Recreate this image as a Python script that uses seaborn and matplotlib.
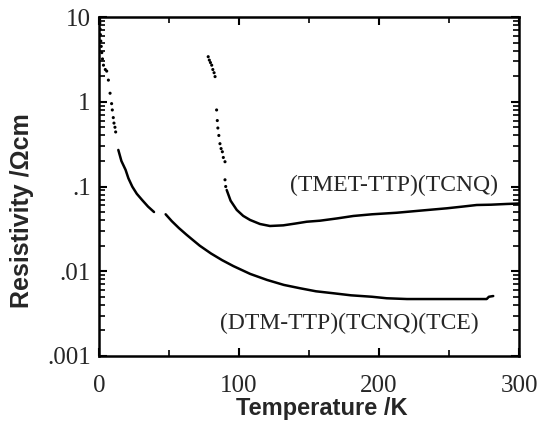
import matplotlib
matplotlib.use("Agg")
import matplotlib.pyplot as plt
import matplotlib.ticker as mticker
import seaborn as sns
import pandas as pd

# ---- data ----
dtm_dots_T = [0.5, 0.6, 0.8, 1.0, 1.3, 1.6, 2.0, 2.5, 3.2, 4.5, 5.5, 6.7, 7.9, 9.0, 9.5, 10.2, 10.7, 11.4, 11.9]
dtm_dots_R = [9.5, 8.5, 7.2, 6.2, 5.2, 4.5, 3.8, 3.2, 2.7, 2.4, 2.3, 1.8, 1.26, 0.95, 0.8, 0.65, 0.56, 0.5, 0.44]

dtm_seg1_T = [13.8, 16, 19, 21, 23.8, 27, 30.9, 35, 39.3]
dtm_seg1_R = [0.27, 0.2, 0.157, 0.125, 0.0995, 0.082, 0.069, 0.058, 0.050]

dtm_seg2_T = [47.6, 52, 57.1, 62.6, 67, 72, 80, 88, 96, 108, 120, 132, 143.6, 155, 167.4, 180,
              195, 205.5, 220, 238.8, 260, 276.9, 278.5, 281.6]
dtm_seg2_R = [0.047, 0.039, 0.0323, 0.0269, 0.0234, 0.0200, 0.0162, 0.0135, 0.0115, 0.0093, 0.0079,
              0.0069, 0.0063, 0.0058, 0.0055, 0.0052, 0.0050, 0.0048, 0.0047, 0.0047, 0.0047, 0.0047,
              0.0050, 0.0051]

tmet_dots_T = [78, 78.8, 79.6, 80.5, 81.3, 82.2, 82.9, 84, 84.5, 84.9, 85.6, 86.4, 87.2, 88.1, 88.8, 90, 90, 90.5]
tmet_dots_R = [3.4, 3.1, 2.9, 2.7, 2.4, 2.2, 1.98, 0.8, 0.6, 0.49, 0.4, 0.32, 0.28, 0.257, 0.22, 0.196, 0.12, 0.1]

tmet_line_T = [91.2, 94, 98.4, 103, 107.9, 115, 122.1, 131.6, 140, 148.4, 157.9, 170, 181.7, 195,
               212.6, 230, 248.4, 260, 269.8, 280, 291, 300]
tmet_line_R = [0.091, 0.068, 0.0529, 0.045, 0.0403, 0.0361, 0.0342, 0.0348, 0.0365, 0.0384, 0.0395,
               0.042, 0.0449, 0.047, 0.049, 0.052, 0.0553, 0.058, 0.0605, 0.061, 0.0622, 0.063]

x_ticks = [0, 100, 200, 300]
y_ticks = [0.001, 0.01, 0.1, 1, 10]
y_tick_labels = [".001", ".01", ".1", "1", "10"]
label_tmet = "(TMET-TTP)(TCNQ)"
label_dtm = "(DTM-TTP)(TCNQ)(TCE)"

# ---- style ----
sns.set_style("ticks")
plt.rcParams["font.family"] = ["Liberation Serif", "DejaVu Serif"]

fig = plt.figure(figsize=(5.45, 4.29), dpi=100)
ax = fig.add_axes([99 / 545, 1 - 356 / 429, (519 - 99) / 545, (356 - 17) / 429])

lw = 1.8
sns.scatterplot(x=dtm_dots_T, y=dtm_dots_R, ax=ax, color="black", s=5, edgecolor="none", legend=False)
sns.lineplot(x=dtm_seg1_T, y=dtm_seg1_R, ax=ax, color="black", lw=lw, sort=False, legend=False)
sns.lineplot(x=dtm_seg2_T, y=dtm_seg2_R, ax=ax, color="black", lw=lw, sort=False, legend=False)
sns.scatterplot(x=tmet_dots_T, y=tmet_dots_R, ax=ax, color="black", s=5, edgecolor="none", legend=False)
sns.lineplot(x=tmet_line_T, y=tmet_line_R, ax=ax, color="black", lw=lw, sort=False, legend=False)

ax.set_yscale("log")
ax.set_xlim(0, 300)
ax.set_ylim(0.001, 10)
ax.set_xticks(x_ticks)
ax.set_xticklabels([str(t) for t in x_ticks])
ax.xaxis.set_minor_locator(mticker.MultipleLocator(50))
ax.set_yticks(y_ticks)
ax.set_yticklabels(y_tick_labels)
ax.yaxis.set_minor_locator(mticker.LogLocator(base=10, subs=range(2, 10), numticks=20))
ax.yaxis.set_minor_formatter(mticker.NullFormatter())

for sp in ax.spines.values():
    sp.set_visible(True)
    sp.set_linewidth(1.8)
    sp.set_color("black")

ax.tick_params(axis="both", which="both", direction="in", top=True, right=True, color="black")
ax.tick_params(axis="both", which="major", length=6, width=1.5, labelsize=18)
ax.tick_params(axis="both", which="minor", length=4, width=1.2)
ax.tick_params(axis="x", which="major", pad=14)
ax.tick_params(axis="y", which="major", pad=6)

ax.set_xlabel("Temperature /K", fontsize=17, fontweight="bold",
              family=["Liberation Sans", "DejaVu Sans"])
ax.set_ylabel("Resistivity /Ωcm", fontsize=18, fontweight="bold",
              family=["Liberation Sans", "DejaVu Sans"])
ax.xaxis.set_label_coords(0.53, -0.122)
ax.yaxis.set_label_coords(-0.155, 0.43)

ax.text(136.4, 0.104, label_tmet, fontsize=17, va="center", ha="left")
ax.text(86.4, 0.00245, label_dtm, fontsize=17, va="center", ha="left")

fig.savefig("out.png", dpi=100, facecolor="white")
